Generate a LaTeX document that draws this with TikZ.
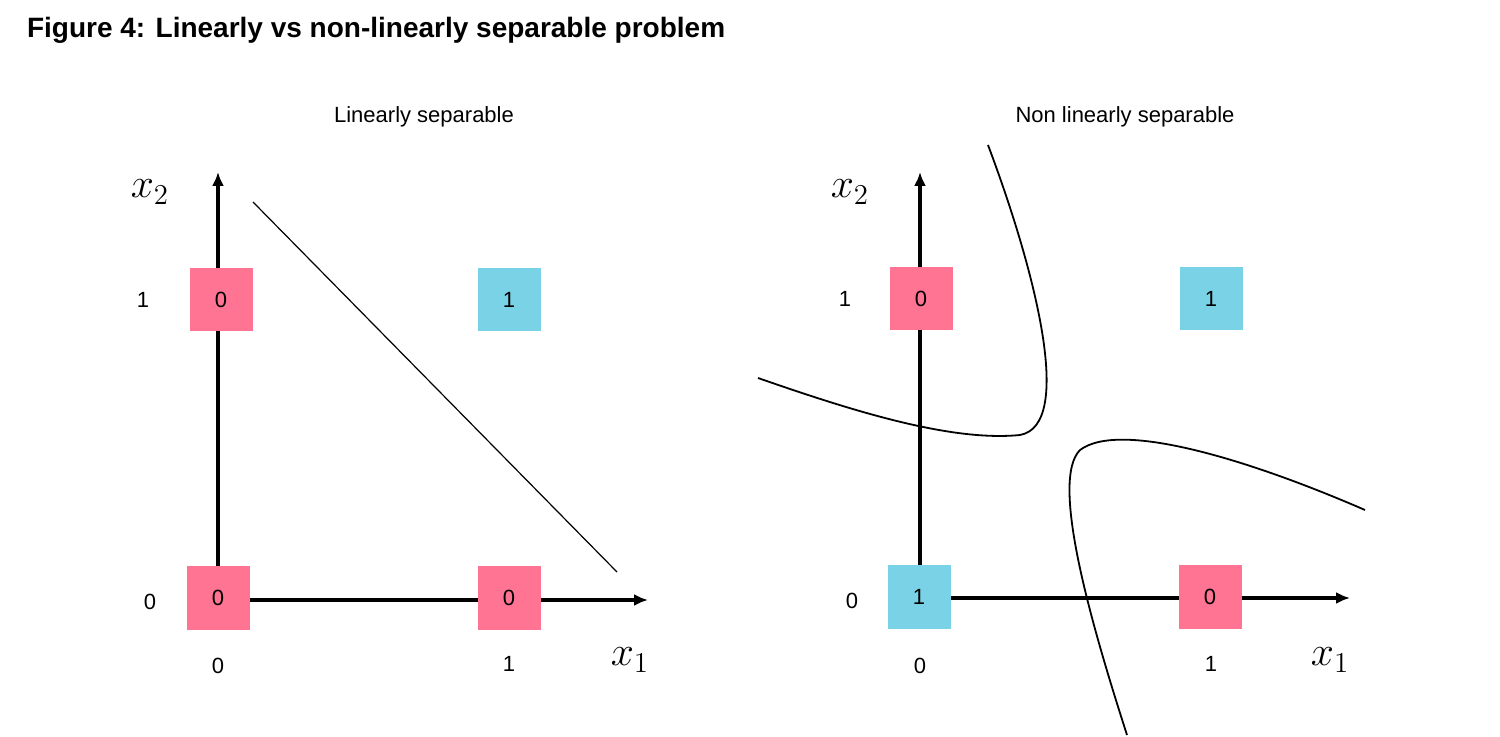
\documentclass[tikz,border=0pt]{standalone}
\usepackage{fontspec}
\setmainfont{Liberation Sans}
\usetikzlibrary{arrows.meta}
\definecolor{pinkc}{HTML}{FF7393}
\definecolor{cyanc}{HTML}{7AD2E6}
\begin{document}
\begin{tikzpicture}[x=0.5pt,y=-0.5pt,
  sq/.style={minimum size=31.5pt,inner sep=0pt,font=\fontsize{11}{13}\selectfont},
  pk/.style={sq,fill=pinkc},
  cy/.style={sq,fill=cyanc},
  lab/.style={font=\fontsize{11}{13}\selectfont},
  ax/.style={line width=1.6pt,-{Latex[length=7pt,width=6pt]}},
  var/.style={font=\fontsize{20}{22}\selectfont}]
\useasboundingbox (0,0) rectangle (1500,737);
\node[anchor=west,font=\bfseries\fontsize{14}{16}\selectfont] (ttl) at (20,30) {Figure 4: Linearly vs non-linearly separable problem};
% left
\node[lab] (t1) at (424,117) {Linearly separable};
\coordinate (o1) at (218,600);
\coordinate (ya) at (218,172);
\coordinate (xa) at (648,600);
\draw[ax] (o1) -- (ya);
\draw[ax] (o1) -- (xa);
\node[pk] (a) at (221,300) {0};
\node[cy] (b) at (509,300) {1};
\node[pk] (c) at (218,598) {0};
\node[pk] (d) at (509,598) {0};
\node[lab] (l1) at (143,300) {1};
\node[lab] (l2) at (150,602) {0};
\node[lab] (l3) at (218,666) {0};
\node[lab] (l4) at (509,664) {1};
\node[var] (v2) at (150,192) {$x_2$};
\node[var] (v1) at (630,660) {$x_1$};
\coordinate (s1) at (253,202);
\coordinate (s2) at (617,572);
\draw[line width=0.6pt] (s1) -- (s2);
% right
\node[lab] (t2) at (1125,117) {Non linearly separable};
\coordinate (o2) at (920,598);
\coordinate (yb) at (920,172);
\coordinate (xb) at (1350,598);
\draw[ax] (o2) -- (yb);
\draw[ax] (o2) -- (xb);
\node[pk] (e) at (921,299) {0};
\node[cy] (f) at (1211,299) {1};
\node[cy] (g) at (919,597) {1};
\node[pk] (h) at (1210,597) {0};
\node[lab] (m1) at (845,299) {1};
\node[lab] (m2) at (852,601) {0};
\node[lab] (m3) at (920,666) {0};
\node[lab] (m4) at (1211,664) {1};
\node[var] (w2) at (850,192) {$x_2$};
\node[var] (w1) at (1330,660) {$x_1$};
\draw[line width=0.9pt] (988,145) .. controls (1035,270) and (1075,425) .. (1020,435) .. controls (950,442) and (850,410) .. (758,378);
\draw[line width=0.9pt] (1365,510) .. controls (1250,460) and (1120,420) .. (1080,450) .. controls (1050,480) and (1090,620) .. (1127,735);
\end{tikzpicture}
\end{document}
